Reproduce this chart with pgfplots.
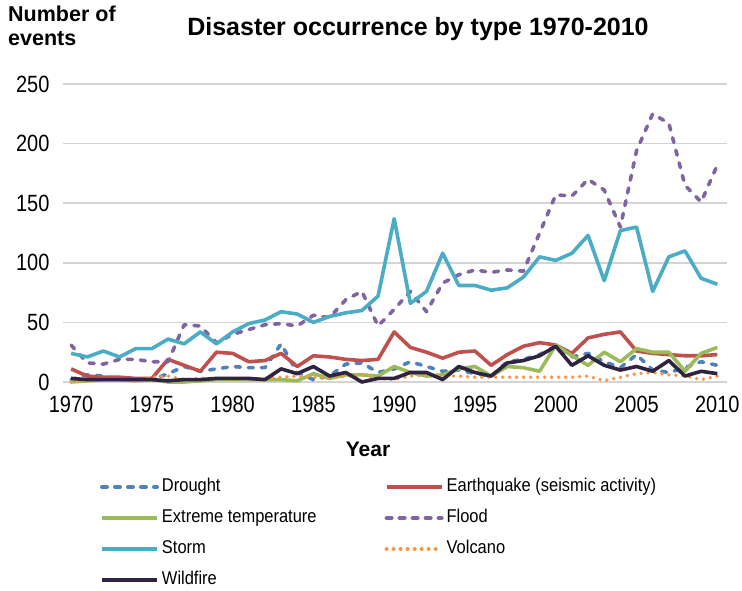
\documentclass[border=0pt]{standalone}
\usepackage{pgfplots}
\usepackage{pgfplotstable}
\pgfplotsset{compat=1.18}
\usepackage{fontspec}
\setmainfont{Liberation Sans}
\newfontfamily\tickfont{Liberation Sans}[FakeStretch=0.85]
\newfontfamily\legfont{Liberation Sans}[FakeStretch=0.89]

\definecolor{cDrought}{HTML}{4F81BD}
\definecolor{cQuake}{HTML}{C0504D}
\definecolor{cTemp}{HTML}{9BBB59}
\definecolor{cFlood}{HTML}{8064A2}
\definecolor{cStorm}{HTML}{4BACC6}
\definecolor{cVolc}{HTML}{F79646}
\definecolor{cFire}{HTML}{2E2340}
\definecolor{cGrid}{HTML}{D4D4D4}

\pgfplotstableread{
year drought quake temp flood storm volc fire
1970 2 11 0 31 24 0 3
1971 6 5 1 16 21 1 2
1972 5 4 2 15 26 2 2
1973 2 4 2 19 21 2 2
1974 2 3 1 19 28 1 2
1975 2 3 2 17 28 4 2
1976 7 19 0 17 36 5 1
1977 13 14 0 48 32 2 2
1978 9 9 1 47 42 3 2
1979 11 25 2 33 32 3 3
1980 13 24 2 40 42 3 3
1981 12 17 2 44 49 2 3
1982 12 18 2 48 52 3 2
1983 32 24 2 49 59 4 11
1984 8 13 1 47 57 5 7
1985 2 22 7 56 50 4 13
1986 5 21 3 54 55 3 5
1987 15 19 6 69 58 5 8
1988 16 18 6 76 60 6 0
1989 8 19 5 47 72 3 3
1990 11 42 13 61 137 2 3
1991 17 29 8 76 66 5 8
1992 13 25 5 59 76 6 8
1993 9 20 6 83 108 5 2
1994 10 25 11 90 81 5 13
1995 7 26 13 94 81 4 8
1996 5 14 5 92 77 4 5
1997 17 23 13 94 79 4 16
1998 19 30 12 93 88 4 18
1999 23 33 9 125 105 4 22
2000 30 31 31 157 102 4 30
2001 21 24 22 156 108 4 14
2002 24 37 14 170 123 5 22
2003 17 40 25 161 85 1 14
2004 12 42 17 130 127 4 10
2005 23 26 28 194 130 7 13
2006 10 24 25 225 76 8 9
2007 8 23 25 217 105 6 18
2008 12 22 9 165 110 5 5
2009 17 22 24 151 87 2 9
2010 14 23 29 182 82 5 7
}\datatable

\begin{document}
\begin{tikzpicture}[x=1pt,y=1pt]
\useasboundingbox (0,0) rectangle (742,590);
\node[anchor=center,font=\fontsize{25}{29}\selectfont\bfseries] at (418,561) {Disaster occurrence by type 1970-2010};
\node[anchor=north west,align=left,inner sep=0pt,font=\fontsize{21.5}{24}\selectfont\bfseries] at (8,584) {Number of\\events};
\node[anchor=center,font=\fontsize{21}{24}\selectfont\bfseries] at (368,141) {Year};
\begin{axis}[
  at={(63pt,208pt)}, anchor=south west,
  scale only axis, width=664pt, height=298pt,
  xmin=1969.5, xmax=2010.6, ymin=0, ymax=250,
  clip=false,
  axis line style={draw=none},
  major tick length=0pt,
  xtick={1970,1975,...,2010},
  ytick={0,50,...,250},
  ymajorgrids,
  grid style={cGrid, line width=1.6pt},
  /pgf/number format/assume math mode=true,
  /pgf/number format/1000 sep={},
  ticklabel style={font=\tickfont\fontsize{23.5}{25}\selectfont, text=black},
  yticklabel style={anchor=east, xshift=-10pt},
  xticklabel style={anchor=north, yshift=-11pt},
  legend columns=2,
  legend cell align=left,
  legend image code/.code={\draw[#1, line width=4pt] (0pt,0pt) -- (55pt,0pt);},
  legend style={at={(rel axis cs:0.0557,-0.3255)}, anchor=north west,
    draw=none, fill=none, inner sep=0pt, outer sep=0pt,
    column sep=3pt, row sep=15pt,
    font=\legfont\fontsize{18.5}{20}\selectfont,
    nodes={inner sep=0pt, text height=12pt, text depth=4pt},
    /tikz/every even column/.append style={column sep=68pt}},
  every axis plot/.append style={line width=3.6pt, line join=round},
]
\addplot[cDrought, dash pattern=on 5pt off 8pt, line cap=round] table[x=year,y=drought]{\datatable};
\addlegendentry{Drought}
\addplot[cQuake] table[x=year,y=quake]{\datatable};
\addlegendentry{Earthquake (seismic activity)}
\addplot[cTemp] table[x=year,y=temp]{\datatable};
\addlegendentry{Extreme temperature}
\addplot[cFlood, dash pattern=on 5pt off 8pt, line cap=round] table[x=year,y=flood]{\datatable};
\addlegendentry{Flood}
\addplot[cStorm] table[x=year,y=storm]{\datatable};
\addlegendentry{Storm}
\addplot[cVolc, line width=3.8pt, dash pattern=on 0pt off 7pt, line cap=round, /tikz/legend image code/.code={\draw[cVolc, line width=3.4pt, dash pattern=on 0pt off 7pt, line cap=round] (1.7pt,0pt) -- (55pt,0pt);}] table[x=year,y=volc]{\datatable};
\addlegendentry{Volcano}
\addplot[cFire] table[x=year,y=fire]{\datatable};
\addlegendentry{Wildfire}
\end{axis}
\end{tikzpicture}
\end{document}
